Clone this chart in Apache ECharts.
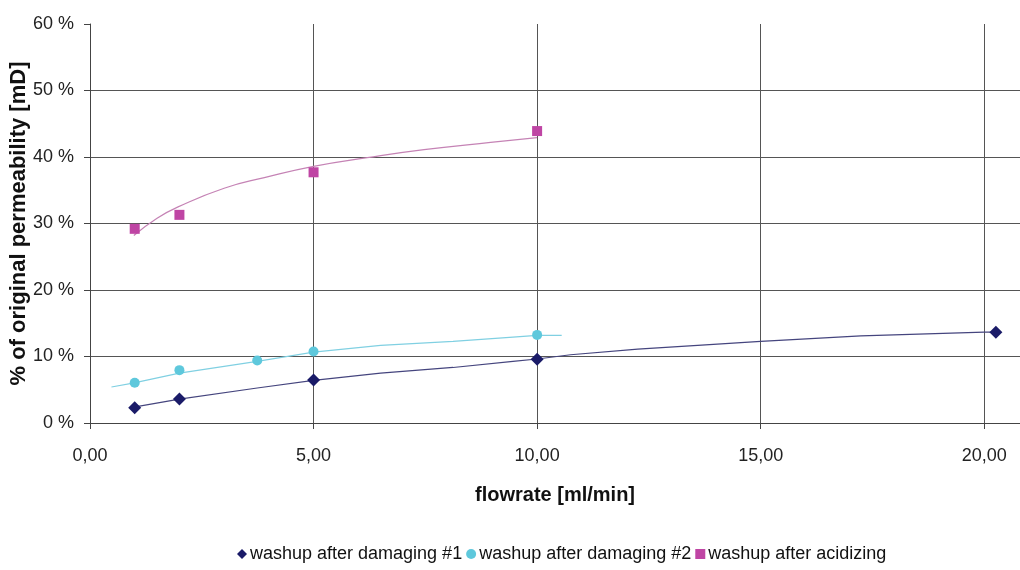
<!DOCTYPE html>
<html><head><meta charset="utf-8">
<script src="https://cdn.jsdelivr.net/npm/echarts@6/dist/echarts.min.js"></script>
<style>html,body{margin:0;padding:0;background:#fff}#c{width:1020px;height:570px}</style>
</head><body><div id="c"></div>
<script>
// measured points
const s1x = [1, 2, 5, 10, 20.26];
const s1y = [2.3, 3.6, 6.45, 9.6, 13.65];
const s2x = [1, 2, 3.74, 5, 10];
const s2y = [6.05, 7.95, 9.4, 10.75, 13.25];
const s3x = [1, 2, 5, 10];
const s3y = [29.2, 31.3, 37.7, 43.9];
// trendline points
const t1x = [0.98, 2, 3.74, 5, 6.5, 8.12, 9.46, 10, 10.75, 12.25, 13.59, 15, 17.24, 20, 20.26];
const t1y = [2.4, 3.6, 5.26, 6.4, 7.5, 8.35, 9.26, 9.62, 10.26, 11.1, 11.66, 12.26, 13.1, 13.67, 13.67];
const t2x = [0.48, 0.96, 2, 3.74, 5, 6.5, 8.12, 9.46, 10, 10.55];
const t2y = [5.41, 6.0, 7.51, 9.26, 10.67, 11.66, 12.26, 12.9, 13.17, 13.17];
const t3x = [0.98, 1.5, 1.97, 3.0, 3.9, 5, 6.2, 7.47, 8.96, 10];
const t3y = [28.2, 30.8, 32.5, 35.3, 36.9, 38.6, 39.9, 41.1, 42.2, 42.9];
const names = ['washup after damaging #1', 'washup after damaging #2', 'washup after acidizing'];
const yTicks = [0, 10, 20, 30, 40, 50, 60];

const zip = (xs, ys) => xs.map((x, i) => [x, ys[i]]);
const FONT = '"Liberation Sans", Arial, sans-serif';
const c1 = '#1a1b68', c2 = '#5ec8dc', c3 = '#bf45a4';

const chart = echarts.init(document.getElementById('c'));
chart.setOption({
  backgroundColor: '#ffffff',
  animation: false,
  textStyle: { fontFamily: FONT },
  grid: { left: 90, top: 24, right: 0, bottom: 147, containLabel: false, outerBoundsMode: 'none' },
  legend: {
    top: 540, left: 232, itemGap: 4, itemWidth: 10, itemHeight: 10,
    textStyle: { fontSize: 18, color: '#111', fontFamily: FONT, padding: [0, 0, 0, -2] },
    data: [
      { name: names[0], icon: 'diamond' },
      { name: names[1], icon: 'circle' },
      { name: names[2], icon: 'rect' }
    ]
  },
  xAxis: {
    type: 'value', min: 0, max: 20.8, interval: 5,
    name: 'flowrate [ml/min]', nameLocation: 'middle', nameGap: 62, nameMoveOverlap: false,
    nameTextStyle: { fontSize: 20, fontWeight: 'bold', color: '#111', fontFamily: FONT },
    axisLine: { show: true, onZero: false, lineStyle: { color: '#444', width: 1 } },
    axisTick: { show: true, length: 6, lineStyle: { color: '#444' } },
    axisLabel: { fontSize: 18, color: '#222', margin: 24, showMaxLabel: false,
      formatter: v => v.toFixed(2).replace('.', ',') },
    splitLine: { show: true, showMaxLine: false, lineStyle: { color: '#555', width: 1 } }
  },
  yAxis: {
    type: 'value', min: 0, max: 60, interval: 10,
    name: '% of original permeability [mD]', nameLocation: 'middle', nameGap: 60, nameMoveOverlap: false,
    nameTextStyle: { fontSize: 22, fontWeight: 'bold', color: '#111', fontFamily: FONT },
    axisLine: { show: true, lineStyle: { color: '#444', width: 1 } },
    axisTick: { show: true, length: 6, lineStyle: { color: '#444' } },
    axisLabel: { fontSize: 18, color: '#222', margin: 16,
      formatter: v => yTicks.includes(v) ? v + ' %' : '' },
    splitLine: { show: true, showMaxLine: false, lineStyle: { color: '#555', width: 1 } }
  },
  series: [
    { type: 'line', data: zip(t1x, t1y), showSymbol: false, silent: true, z: 2,
      lineStyle: { color: '#45457e', width: 1.2 } },
    { type: 'line', data: zip(t2x, t2y), showSymbol: false, silent: true, z: 2,
      lineStyle: { color: '#80d0e2', width: 1.2 } },
    { type: 'line', data: zip(t3x, t3y), showSymbol: false, silent: true, z: 2, smooth: true,
      lineStyle: { color: '#c583b5', width: 1.2 } },
    { name: names[0], type: 'scatter', data: zip(s1x, s1y), symbol: 'diamond', symbolSize: 13, z: 5,
      itemStyle: { color: c1, opacity: 1 } },
    { name: names[1], type: 'scatter', data: zip(s2x, s2y), symbol: 'circle', symbolSize: 10, z: 5,
      itemStyle: { color: c2, opacity: 1 } },
    { name: names[2], type: 'scatter', data: zip(s3x, s3y), symbol: 'rect', symbolSize: 10, z: 5,
      itemStyle: { color: c3, opacity: 1 } }
  ]
});
</script></body></html>
